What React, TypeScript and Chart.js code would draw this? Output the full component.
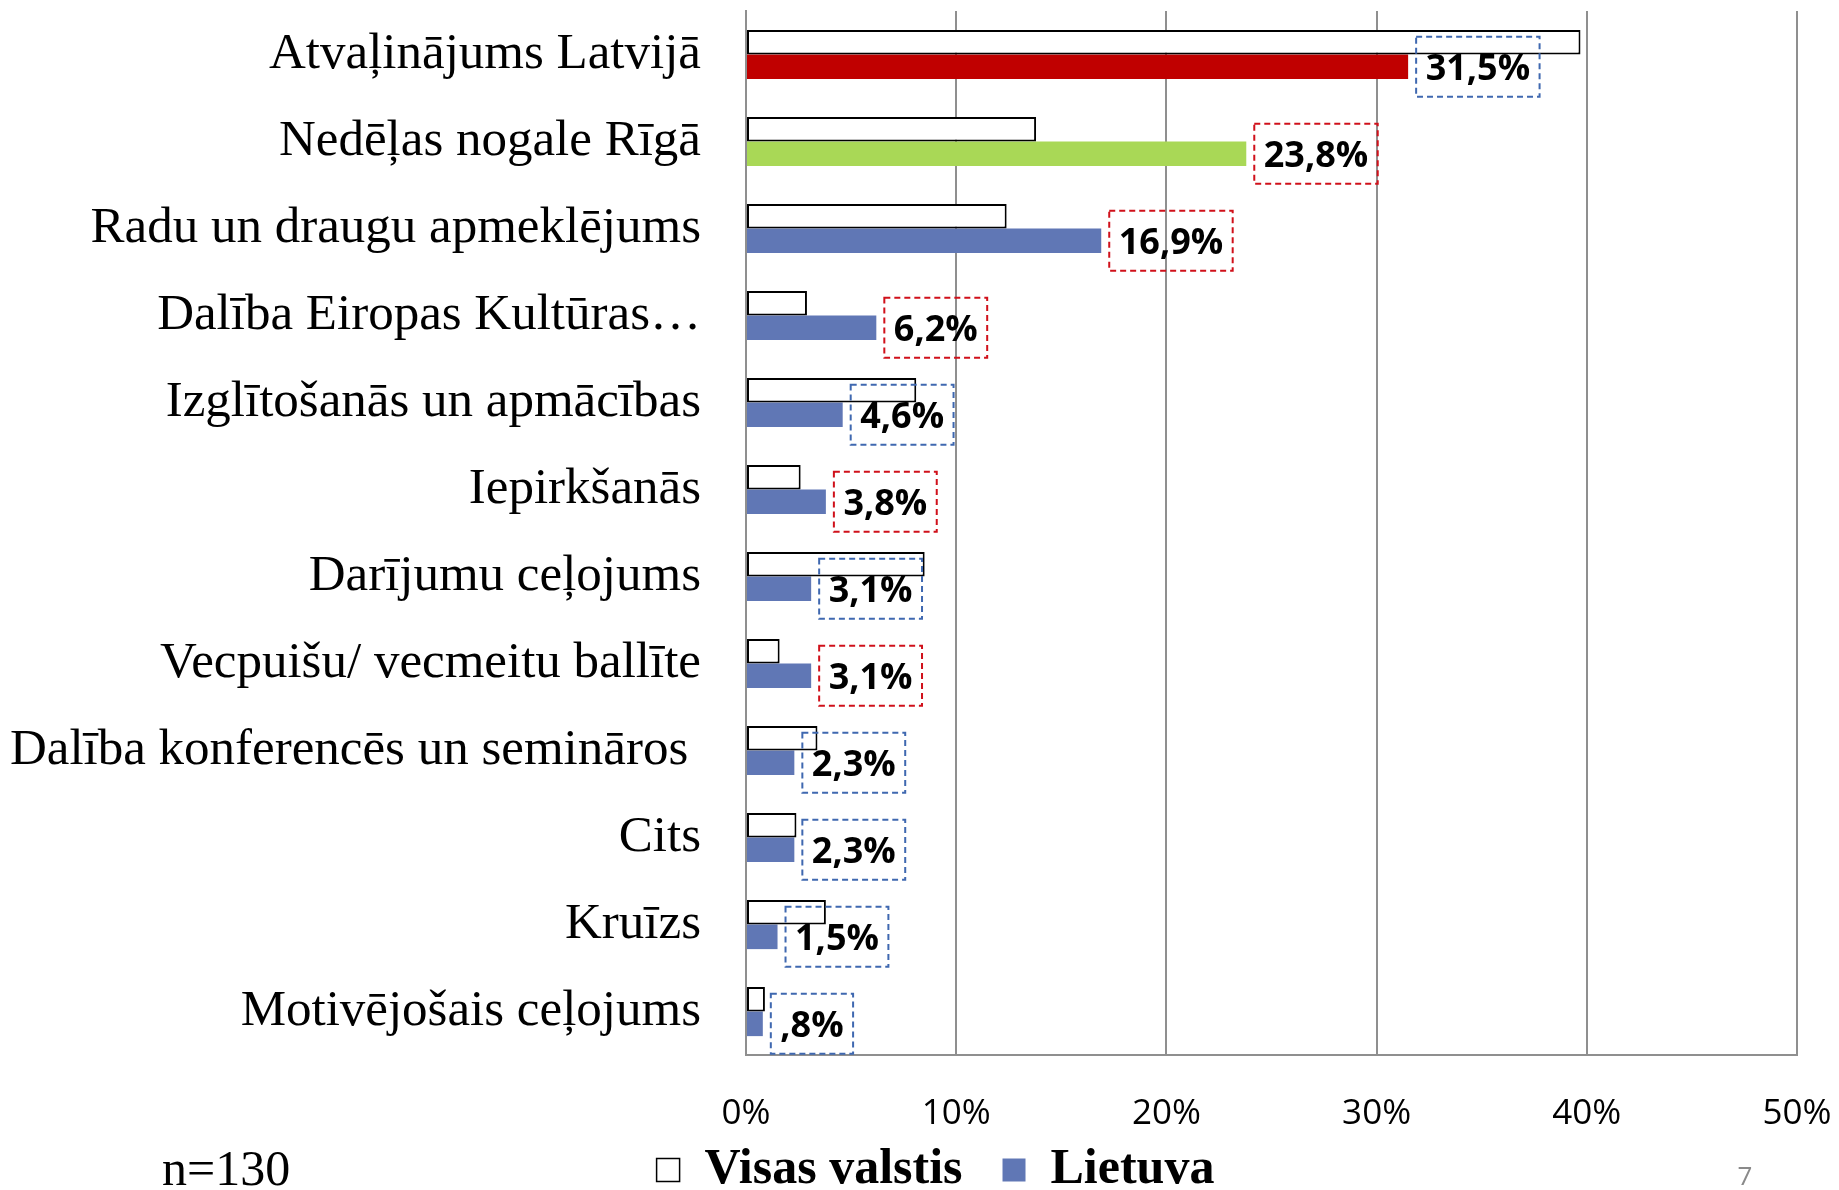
import { useEffect, useRef } from 'react';
import { Chart, registerables } from 'chart.js';

Chart.register(...registerables);

const categories = [
  'Atvaļinājums Latvijā',
  'Nedēļas nogale Rīgā',
  'Radu un draugu apmeklējums',
  'Dalība Eiropas Kultūras…',
  'Izglītošanās un apmācības',
  'Iepirkšanās',
  'Darījumu ceļojums',
  'Vecpuišu/ vecmeitu ballīte',
  'Dalība konferencēs un semināros ',
  'Cits',
  'Kruīzs',
  'Motivējošais ceļojums',
];
const visasValues = [39.7, 13.8, 12.4, 2.9, 8.1, 2.6, 8.5, 1.6, 3.4, 2.4, 3.8, 0.9];
const lietuvaValues = [31.5, 23.8, 16.9, 6.2, 4.6, 3.8, 3.1, 3.1, 2.3, 2.3, 1.5, 0.8];
const lietuvaLabels = ['31,5%', '23,8%', '16,9%', '6,2%', '4,6%', '3,8%', '3,1%', '3,1%', '2,3%', '2,3%', '1,5%', ',8%'];
const seriesNames = ['Visas valstis', 'Lietuva'];
const xMin = 0;
const xMax = 50;
const xStep = 10;
const noteText = 'n=130';
const pageNumber = '7';

const RED = '#C00000';
const GREEN = '#A9D856';
const BLUE = '#6077B5';
const BOX_BLUE = '#3F68B0';
const BOX_RED = '#D0101A';
const lietuvaColors = [RED, GREEN, BLUE, BLUE, BLUE, BLUE, BLUE, BLUE, BLUE, BLUE, BLUE, BLUE];
const boxColors = [BOX_BLUE, BOX_RED, BOX_RED, BOX_RED, BOX_BLUE, BOX_RED, BOX_BLUE, BOX_RED, BOX_BLUE, BOX_BLUE, BOX_BLUE, BOX_BLUE];

export default function App() {
  const ref = useRef<HTMLCanvasElement>(null);

  useEffect(() => {
    const canvas = ref.current;
    if (!canvas) return;

    const labelPlugin = {
      id: 'boxLabels',
      afterDatasetsDraw(chart: any) {
        const ctx = chart.ctx;
        const meta = chart.getDatasetMeta(1);
        ctx.save();
        ctx.font = 'bold 36px "Open Sans"';
        ctx.textAlign = 'center';
        ctx.textBaseline = 'middle';
        meta.data.forEach((bar: any, i: number) => {
          const text = lietuvaLabels[i];
          const tw = ctx.measureText(text).width;
          const w = tw + 19;
          const h = 60;
          const left = bar.x + 8;
          const top = bar.y - h / 2;
          ctx.setLineDash([6, 4]);
          ctx.lineWidth = 2;
          ctx.strokeStyle = boxColors[i];
          ctx.strokeRect(left, top, w, h);
          ctx.setLineDash([]);
          ctx.fillStyle = '#000';
          ctx.fillText(text, left + w / 2, bar.y + 3);
        });
        ctx.restore();
      },
    };

    const extrasPlugin = {
      id: 'extras',
      afterLayout(chart: any) {
        const lg = chart.legend;
        if (lg) {
          lg.top += 15;
          lg.bottom += 15;
          lg.left += 37;
          lg.right += 37;
        }
        const xs = chart.scales.x;
        if (xs) {
          xs.bottom = xs.top + 100;
        }
      },
      afterDraw(chart: any) {
        const ctx = chart.ctx;
        ctx.save();
        ctx.fillStyle = '#000';
        ctx.font = '50px "Liberation Serif"';
        ctx.textAlign = 'left';
        ctx.textBaseline = 'middle';
        ctx.fillText(noteText, 162, 1172);
        ctx.fillStyle = '#8a8a8a';
        ctx.font = '26px "Open Sans"';
        ctx.textAlign = 'center';
        ctx.fillText(pageNumber, 1745, 1178);
        ctx.restore();
      },
    };

    const chart = new Chart(canvas, {
      type: 'bar',
      data: {
        labels: categories,
        datasets: [
          {
            label: seriesNames[0],
            data: visasValues,
            backgroundColor: '#FFFFFF',
            borderColor: '#000000',
            borderWidth: 2,
            borderSkipped: false,
          },
          {
            label: seriesNames[1],
            data: lietuvaValues,
            backgroundColor: lietuvaColors,
            borderWidth: 0,
          },
        ],
      },
      options: {
        indexAxis: 'y',
        responsive: false,
        animation: false,
        devicePixelRatio: 1,
        datasets: {
          bar: { categoryPercentage: 0.566, barPercentage: 1 },
        },
        layout: { padding: { top: 11, right: 42, left: 0, bottom: 0 } },
        scales: {
          x: {
            type: 'linear',
            min: xMin,
            max: xMax,
            afterFit(scale: any) {
              scale.height = 35;
              scale.paddingLeft = 0;
              scale.paddingRight = 0;
            },
            grid: { color: '#8f8f8f', lineWidth: 2, drawTicks: false },
            border: { display: true, color: '#8f8f8f', width: 2 },
            ticks: {
              stepSize: xStep,
              padding: 38,
              color: '#000',
              font: { family: '"Open Sans"', size: 35 },
              callback: (v: any) => v + '%',
              maxRotation: 0,
              autoSkip: false,
            },
          },
          y: {
            afterFit(scale: any) {
              scale.width = 746;
              scale.paddingTop = 0;
              scale.paddingBottom = 0;
            },
            grid: { display: false, drawTicks: false },
            border: { display: true, color: '#8f8f8f', width: 2 },
            ticks: {
              padding: 45,
              color: '#000',
              font: { family: '"Liberation Serif"', size: 51 },
              autoSkip: false,
            },
          },
        },
        plugins: {
          tooltip: { enabled: false },
          legend: {
            position: 'bottom',
            labels: {
              boxWidth: 23,
              boxHeight: 23,
              padding: 40,
              color: '#000',
              font: { family: '"Liberation Serif"', size: 50, weight: 'bold' },
              generateLabels: () => [
                {
                  text: seriesNames[0],
                  fillStyle: '#FFFFFF',
                  strokeStyle: '#000000',
                  lineWidth: 1.5,
                  hidden: false,
                  datasetIndex: 0,
                  fontColor: '#000',
                },
                {
                  text: seriesNames[1],
                  fillStyle: BLUE,
                  strokeStyle: BLUE,
                  lineWidth: 0,
                  hidden: false,
                  datasetIndex: 1,
                  fontColor: '#000',
                },
              ],
            },
          },
        },
      } as any,
      plugins: [labelPlugin, extrasPlugin],
    });

    return () => chart.destroy();
  }, []);

  return (
    <div style={{ position: 'fixed', left: 0, top: 0, width: 1839, height: 1190, background: '#fff', overflow: 'hidden' }}>
      <canvas ref={ref} width={1839} height={1190} style={{ display: 'block' }} />
    </div>
  );
}
